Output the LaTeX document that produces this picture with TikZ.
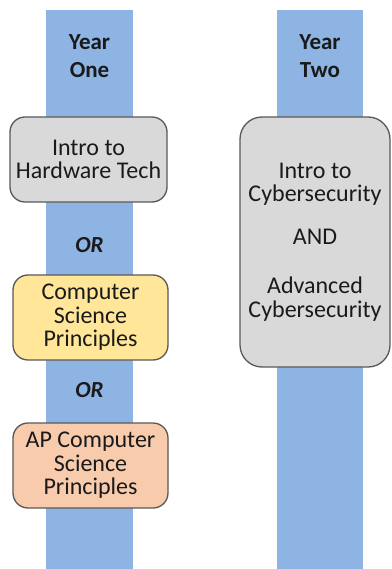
\documentclass[tikz,border=0pt]{standalone}
\usepackage{fontspec}
\setmainfont{Carlito}
\definecolor{barblue}{HTML}{8EB4E3}
\definecolor{boxgray}{HTML}{D9D9D9}
\definecolor{boxyellow}{HTML}{FFE699}
\definecolor{boxorange}{HTML}{F8CBAD}
\definecolor{edgegray}{HTML}{595959}
\definecolor{txt}{HTML}{1A1A1A}
\begin{document}
\begin{tikzpicture}[x=1pt,y=-1pt,
  font=\fontsize{24}{23.5}\selectfont,
  bar/.style={fill=barblue,draw=none},
  course/.style={draw=edgegray,line width=1.3pt,rounded corners=15pt,
    align=center,inner sep=0pt,text=txt},
  head/.style={align=center,font=\fontsize{23}{28}\selectfont\bfseries,text=txt},
  orlab/.style={font=\fontsize{23}{23.5}\selectfont\bfseries\itshape,text=txt}]
\useasboundingbox (0,0) rectangle (391,569);
\fill[white] (0,0) rectangle (391,569);
\path[bar] (46,10) rectangle (133,569);
\path[bar] (277,10) rectangle (363,569);
\node[head] (y1) at (89.5,56) {Year\\One};
\node[head] (y2) at (320,56) {Year\\Two};
\node[course,fill=boxgray,minimum width=157pt,minimum height=85pt] (hw) at (88.5,159.5) {Intro to\\Hardware Tech};
\node[orlab] (or1) at (89.5,245) {OR};
\node[course,fill=boxyellow,minimum width=155pt,minimum height=85pt] (csp) at (90.5,317.5) {Computer\\Science\\Principles};
\node[orlab] (or2) at (89.5,390) {OR};
\node[course,fill=boxorange,minimum width=155pt,minimum height=85pt] (apcsp) at (90.5,465.5) {AP Computer\\Science\\Principles};
\node[course,rounded corners=22pt,fill=boxgray,minimum width=150pt,minimum height=250pt] (cyber) at (315,242) {Intro to\\Cybersecurity\\[19pt]AND\\[26pt]Advanced\\Cybersecurity};
\end{tikzpicture}
\end{document}
